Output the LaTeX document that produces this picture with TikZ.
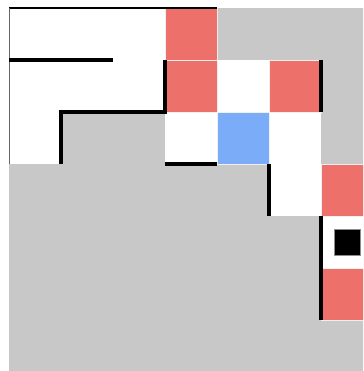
\documentclass[tikz,border=0pt]{standalone}
\usetikzlibrary{positioning}
\definecolor{floorgray}{HTML}{C8C8C8}
\definecolor{pathred}{HTML}{EE706B}
\definecolor{agentblue}{HTML}{7AACF8}
\begin{document}
\begin{tikzpicture}[x=1cm, y=-1cm, cell/.style = {minimum size=1cm, inner sep=0pt, outer sep=0pt, draw=black!6, line width=0.3pt}, wall/.style = {line width=1.7pt, line join=miter}]
    \useasboundingbox (-0.173,-0.154) rectangle (6.808,6.981);
    \clip (-0.173,-0.154) rectangle (6.808,6.981);
    \fill[floorgray] (0,0) rectangle (7,7);
    % open cells
    \foreach \x/\y in {0/0,1/0,2/0,0/1,1/1,2/1,4/1,0/2,3/2,5/2,5/3,6/4}
      \node[cell, fill=white, draw=none] (open\x\y) at (\x+0.5,\y+0.5) {};
    % path cells
    \begin{scope}[every node/.style={cell, fill=pathred}]
      \node (red30) at (3.5,0.5) {}; \node (red31) at (3.5,1.5) {}; \node (red51) at (5.5,1.5) {};
      \node (red63) at (6.5,3.5) {}; \node (red65) at (6.5,5.5) {};
    \end{scope}
    \node[cell, fill=agentblue] (agent) at (4.5,2.5) {};
    \node[fill=black, draw=black!45, line width=0.4pt, minimum size=0.5cm, inner sep=0pt] (goal) at (open64) {};
    % outer edge
    \draw[black, line width=0.7pt] (0,0) -- (4,0);
    \draw[black!60, line width=0.5pt] (0,0) -- (0,3);
    % walls
    \draw[wall] (0,1) -- (2,1);
    \draw[wall] (1,3) -- (1,2) -- (3,2) -- (3,1);
    \draw[wall] (3,3) -- (4,3);
    \draw[wall] (6,1) -- (6,2);
    \draw[wall] (5,3) -- (5,4);
    \draw[wall] (6,4) -- (6,6);
  \end{tikzpicture}
\end{document}
